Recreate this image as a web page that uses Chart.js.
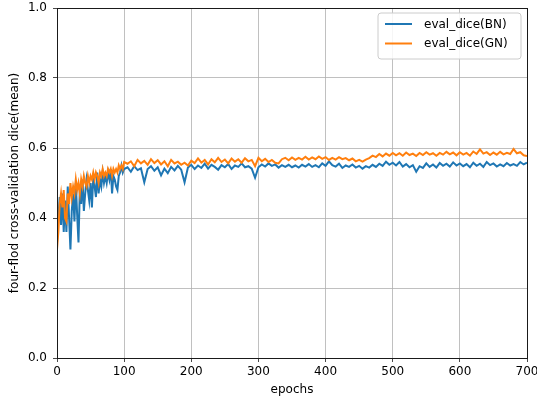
<!DOCTYPE html>
<html>
<head>
<meta charset="utf-8">
<script src="https://cdn.jsdelivr.net/npm/chart.js@4/dist/chart.umd.min.js"></script>
<style>
  html, body { margin: 0; padding: 0; background: #fff; }
  #wrap { width: 537px; height: 401px; }
</style>
</head>
<body>
<div id="wrap"><canvas id="c" width="537" height="401"></canvas></div>
<script>
const epochs = [0,2,4,6,8,10,12,14,16,18,20,22,24,26,28,30,32,34,36,38,40,42,44,46,48,50,52,54,56,58,60,62,64,66,68,70,72,74,76,78,80,82,84,86,88,90,92,94,96,98,100,
105,110,115,120,125,130,135,140,145,150,155,160,165,170,175,180,185,190,195,200,205,210,215,220,225,230,235,240,245,250,255,260,265,270,275,280,285,290,295,300,
305,310,315,320,325,330,335,340,345,350,355,360,365,370,375,380,385,390,395,400,405,410,415,420,425,430,435,440,445,450,455,460,465,470,475,480,485,490,495,500,
505,510,515,520,525,530,535,540,545,550,555,560,565,570,575,580,585,590,595,600,605,610,615,620,625,630,635,640,645,650,655,660,665,670,675,680,685,690,695,700];

const diceBN = [0.33,0.40,0.46,0.38,0.47,0.36,0.45,0.36,0.49,0.40,0.31,0.42,0.47,0.39,0.50,0.41,0.33,0.48,0.44,0.51,0.42,0.47,0.51,0.48,0.45,0.50,0.43,0.52,0.49,0.46,0.53,0.47,0.51,0.49,0.53,0.50,0.52,0.50,0.53,0.51,0.54,0.47,0.52,0.51,0.49,0.48,0.52,0.53,0.55,0.53,0.54,
0.545,0.532,0.548,0.537,0.542,0.502,0.540,0.548,0.535,0.545,0.522,0.541,0.528,0.546,0.536,0.549,0.538,0.502,0.544,0.552,0.540,0.550,0.543,0.555,0.541,0.552,0.546,0.538,0.551,0.545,0.554,0.540,0.550,0.546,0.556,0.545,0.548,0.541,0.515,0.545,
0.553,0.547,0.556,0.549,0.553,0.544,0.551,0.546,0.552,0.545,0.550,0.544,0.552,0.547,0.554,0.546,0.551,0.545,0.556,0.549,0.562,0.551,0.547,0.555,0.543,0.550,0.546,0.553,0.544,0.549,0.541,0.548,0.544,0.552,0.546,0.555,0.549,0.561,0.552,0.558,
0.550,0.560,0.547,0.554,0.545,0.551,0.532,0.548,0.543,0.556,0.546,0.553,0.544,0.557,0.549,0.555,0.547,0.559,0.550,0.556,0.548,0.554,0.545,0.558,0.549,0.555,0.546,0.560,0.551,0.556,0.547,0.553,0.548,0.557,0.550,0.554,0.549,0.560,0.553,0.558];

const diceGN = [0.31,0.36,0.44,0.47,0.43,0.48,0.40,0.39,0.47,0.44,0.50,0.46,0.49,0.47,0.51,0.48,0.50,0.47,0.51,0.49,0.52,0.50,0.49,0.52,0.50,0.52,0.51,0.53,0.51,0.53,0.52,0.50,0.53,0.52,0.54,0.52,0.53,0.52,0.54,0.53,0.54,0.52,0.54,0.53,0.54,0.53,0.55,0.54,0.55,0.54,0.56,
0.555,0.562,0.548,0.566,0.556,0.563,0.552,0.568,0.557,0.565,0.553,0.562,0.548,0.566,0.556,0.561,0.552,0.558,0.550,0.564,0.557,0.570,0.558,0.566,0.553,0.568,0.559,0.572,0.560,0.567,0.556,0.570,0.561,0.568,0.558,0.571,0.562,0.566,0.548,0.572,
0.562,0.569,0.560,0.566,0.558,0.556,0.568,0.572,0.565,0.573,0.566,0.572,0.567,0.575,0.567,0.573,0.568,0.576,0.569,0.574,0.566,0.572,0.567,0.574,0.568,0.571,0.565,0.570,0.562,0.566,0.561,0.567,0.571,0.578,0.574,0.583,0.576,0.584,0.578,0.586,
0.579,0.585,0.578,0.587,0.580,0.584,0.577,0.586,0.580,0.588,0.581,0.585,0.578,0.586,0.581,0.589,0.582,0.587,0.579,0.588,0.581,0.586,0.578,0.590,0.583,0.596,0.584,0.588,0.580,0.587,0.581,0.589,0.582,0.586,0.583,0.597,0.585,0.588,0.579,0.577];

const seriesLabels = ['eval_dice(BN)', 'eval_dice(GN)'];
const seriesColors = ['#1f77b4', '#ff7f0e'];
const xTicks = [0,100,200,300,400,500,600,700];
const yTicks = [0.0,0.2,0.4,0.6,0.8,1.0];

Chart.defaults.font.family = "'DejaVu Sans', sans-serif";
Chart.defaults.font.size = 12;
Chart.defaults.color = '#000';

const spines = {
  id: 'spines',
  afterDatasetsDraw(chart) {
    const {ctx, chartArea: a} = chart;
    ctx.save();
    ctx.strokeStyle = '#1a1a1a';
    ctx.lineWidth = 1;
    ctx.strokeRect(Math.round(a.left) + 0.5, Math.round(a.top) + 0.5, Math.round(a.right - a.left), Math.round(a.bottom - a.top));
    ctx.restore();
  }
};

const mplLegend = {
  id: 'mplLegend',
  afterDraw(chart) {
    const {ctx, chartArea: a} = chart;
    const bx = a.right - 149, by = a.top + 5, bw = 143, bh = 46, r = 3;
    ctx.save();
    ctx.beginPath();
    ctx.moveTo(bx + r, by);
    ctx.lineTo(bx + bw - r, by); ctx.quadraticCurveTo(bx + bw, by, bx + bw, by + r);
    ctx.lineTo(bx + bw, by + bh - r); ctx.quadraticCurveTo(bx + bw, by + bh, bx + bw - r, by + bh);
    ctx.lineTo(bx + r, by + bh); ctx.quadraticCurveTo(bx, by + bh, bx, by + bh - r);
    ctx.lineTo(bx, by + r); ctx.quadraticCurveTo(bx, by, bx + r, by);
    ctx.closePath();
    ctx.fillStyle = 'rgba(255,255,255,0.85)';
    ctx.fill();
    ctx.strokeStyle = '#cccccc';
    ctx.lineWidth = 1;
    ctx.stroke();
    chart.data.datasets.forEach((ds, i) => {
      const yy = by + 11 + i * 19.5;
      ctx.beginPath();
      ctx.moveTo(bx + 7, yy);
      ctx.lineTo(bx + 34, yy);
      ctx.strokeStyle = ds.borderColor;
      ctx.lineWidth = 2;
      ctx.stroke();
      ctx.fillStyle = '#000';
      ctx.font = "12px 'DejaVu Sans', sans-serif";
      ctx.textBaseline = 'middle';
      ctx.textAlign = 'left';
      ctx.fillText(ds.label, bx + 46, yy + 0.5);
    });
    ctx.restore();
  }
};

const makePoints = vals => epochs.map((e, i) => ({x: e, y: vals[i]}));

new Chart(document.getElementById('c'), {
  type: 'line',
  data: {
    datasets: [
      { label: seriesLabels[0], data: makePoints(diceBN), borderColor: seriesColors[0], backgroundColor: seriesColors[0], borderWidth: 2, pointRadius: 0, tension: 0, order: 1 },
      { label: seriesLabels[1], data: makePoints(diceGN), borderColor: seriesColors[1], backgroundColor: seriesColors[1], borderWidth: 2, pointRadius: 0, tension: 0, order: 0 }
    ]
  },
  options: {
    responsive: false,
    animation: false,
    events: [],
    layout: { padding: { top: 8, right: 10, left: 0, bottom: 0 } },
    plugins: { legend: { display: false }, tooltip: { enabled: false } },
    scales: {
      x: {
        type: 'linear', min: 0, max: 700,
        afterBuildTicks: s => { s.ticks = xTicks.map(v => ({value: v})); },
        afterFit: s => { s.height = 43; s.paddingLeft = 0; s.paddingRight = 0; },
        ticks: { padding: 3, color: '#000', font: { size: 12 } },
        grid: { color: '#b0b0b0', lineWidth: 0.8, tickColor: '#1a1a1a', tickLength: 4, drawTicks: true },
        border: { display: true, color: '#1a1a1a', width: 1 },
        title: { display: true, text: 'epochs', color: '#000', font: { size: 12 }, padding: { top: 0, bottom: 4 } }
      },
      y: {
        type: 'linear', min: 0, max: 1,
        afterBuildTicks: s => { s.ticks = yTicks.map(v => ({value: v})); },
        afterFit: s => { s.width = 57; s.paddingTop = 0; s.paddingBottom = 0; },
        ticks: { padding: 6, color: '#000', font: { size: 12 }, callback: v => Number(v).toFixed(1) },
        grid: { color: '#b0b0b0', lineWidth: 0.8, tickColor: '#1a1a1a', tickLength: 4, drawTicks: true },
        border: { display: true, color: '#1a1a1a', width: 1 },
        title: { display: true, text: 'four-flod cross-validation dice(mean)', color: '#000', font: { size: 12 }, padding: { top: 8, bottom: 0 } }
      }
    }
  },
  plugins: [spines, mplLegend]
});
</script>
</body>
</html>
